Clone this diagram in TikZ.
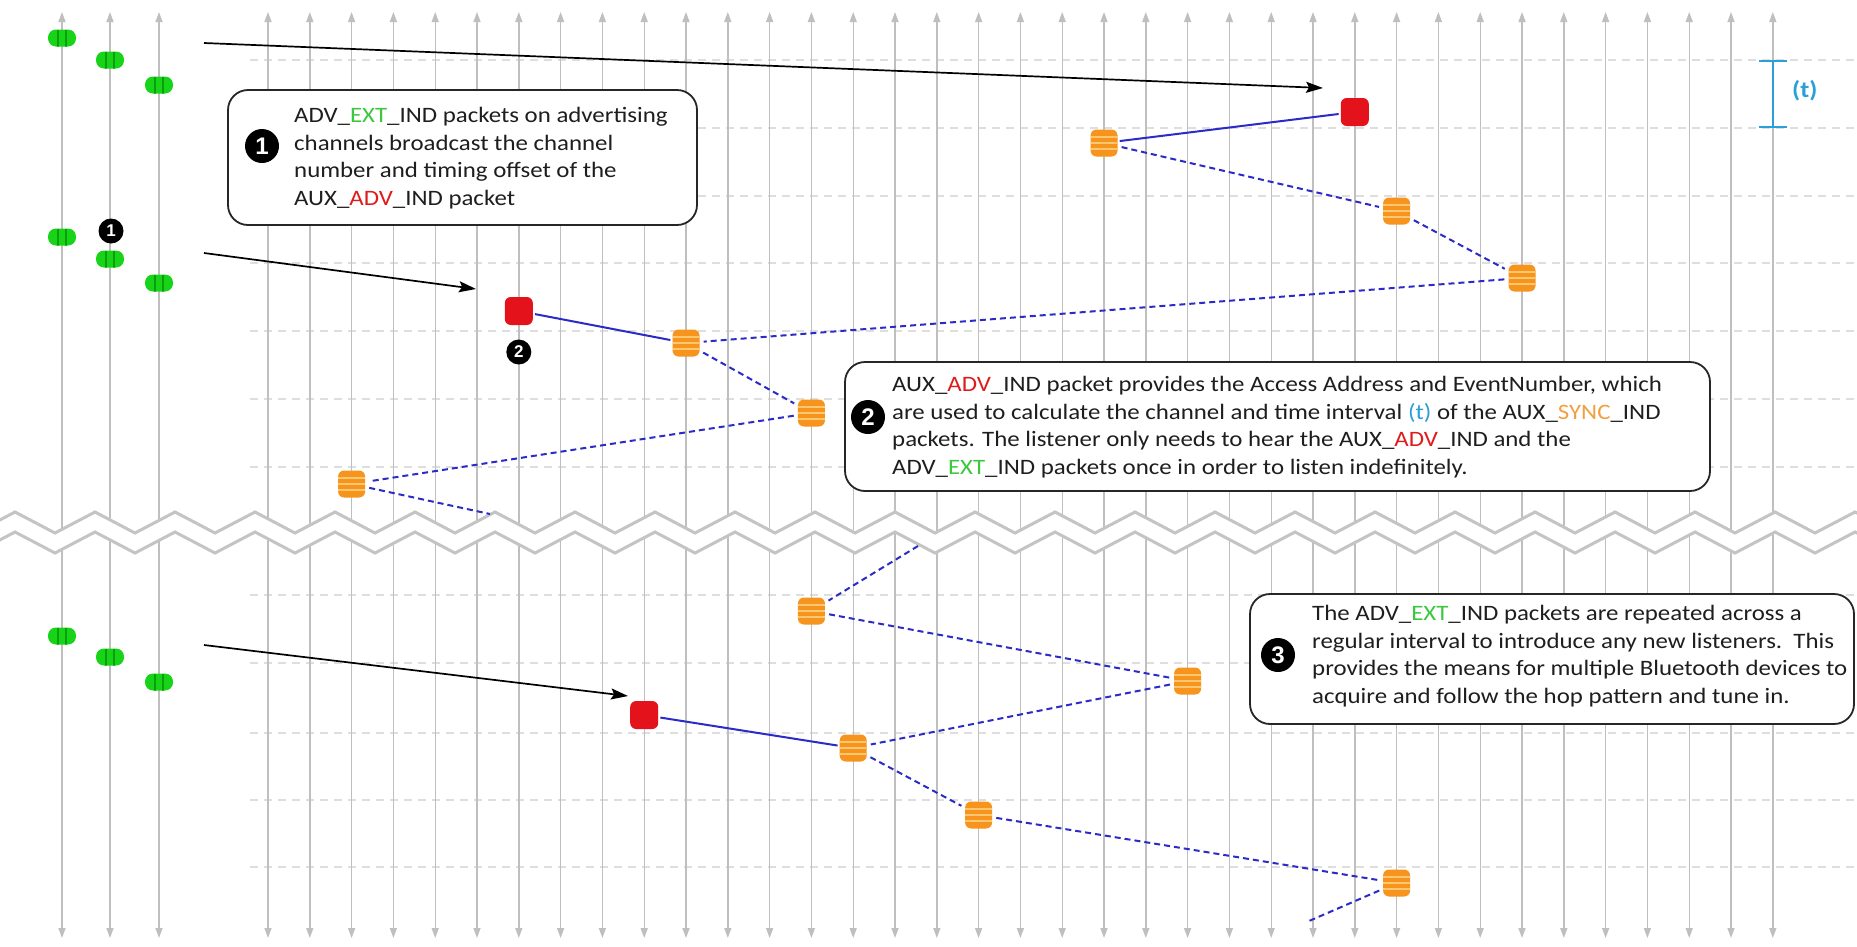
\documentclass[tikz,border=0pt]{standalone}
\usepackage{fontspec}
\setmainfont{Carlito}[FakeStretch=1.13]
\newfontfamily\numfont{Liberation Sans}
\usetikzlibrary{arrows.meta}
\definecolor{gridgray}{HTML}{BFBFBF}
\definecolor{hgray}{HTML}{DEDEDE}
\definecolor{ziggray}{HTML}{C4C4C4}
\definecolor{pktgreen}{HTML}{18D418}
\definecolor{pktgreendark}{HTML}{0B9E0B}
\definecolor{txtgreen}{HTML}{3CC83C}
\definecolor{txtred}{HTML}{E01B1B}
\definecolor{pktred}{HTML}{E3121B}
\definecolor{pktorange}{HTML}{F7941E}
\definecolor{orangeline}{HTML}{FFC870}
\definecolor{txtorange}{HTML}{F0A040}
\definecolor{tblue}{HTML}{2A9FD8}
\definecolor{linkblue}{HTML}{2B2BC8}
\definecolor{textgray}{HTML}{1E1E1E}
\tikzset{
  vline/.style={draw=gridgray, line width=1.4pt},
  vtip/.style={-{Triangle[length=10pt,width=7pt]}},
  hgrid/.style={draw=hgray, line width=1.2pt, dash pattern=on 8pt off 6pt},
  zig/.style={draw=ziggray, line width=3pt, line join=miter},
  greenpkt/.style={rounded corners=8pt, minimum width=28pt, minimum height=17pt, inner sep=0pt, fill=pktgreen,
    path picture={\foreach \dx in {-4,4}{\draw[pktgreendark, line width=1.2pt] ([xshift=\dx pt]path picture bounding box.north) -- ([xshift=\dx pt]path picture bounding box.south);}}},
  orangepkt/.style={rounded corners=6pt, minimum width=27pt, minimum height=27pt, inner sep=0pt, fill=pktorange,
    path picture={\foreach \dy in {-6,0,6}{\draw[orangeline, line width=1.5pt] ([yshift=\dy pt]path picture bounding box.west) -- ([yshift=\dy pt]path picture bounding box.east);}}},
  redpkt/.style={rounded corners=6pt, minimum width=28pt, minimum height=28pt, inner sep=0pt, fill=pktred},
  infobox/.style={draw=black!85, line width=1.8pt, rounded corners=20pt, fill=white, inner sep=0pt},
  infotext/.style={inner sep=0pt, align=left, anchor=west, text=textgray, font=\fontsize{22}{27.5}\selectfont},
  bignum/.style={circle, fill=black, text=white, minimum size=34pt, inner sep=0pt, font=\numfont\bfseries\fontsize{24}{24}\selectfont},
  smallnum/.style={circle, fill=black, text=white, minimum size=25pt, inner sep=0pt, font=\numfont\bfseries\fontsize{17}{17}\selectfont},
  blueline/.style={draw=linkblue, line width=2pt, shorten <=2pt, shorten >=2pt},
  bluedash/.style={draw=linkblue, line width=2pt, dash pattern=on 6pt off 4pt, shorten <=4pt, shorten >=4pt},
  blackarrow/.style={draw=black, line width=1.7pt, -{Stealth[length=17pt,width=11pt,inset=3pt]}},
  tbar/.style={draw=tblue, line width=2.5pt}
}
\begin{document}
\begin{tikzpicture}[x=1pt,y=-1pt]
\useasboundingbox (0,0) rectangle (1857,946);
\fill[white] (0,0) rectangle (1857,946);
% horizontal time grid
\foreach \yy in {60,128,196,263,331,399,467,595,663,733,800,867}{
  \draw[hgrid] (250,\yy) -- (1857,\yy);
}
% vertical channel lines
\foreach \xx in {62,110,159}{
  \draw[vline,vtip] (\xx,525) -- (\xx,12);
  \draw[vline,vtip] (\xx,525) -- (\xx,938);
}
\foreach \k in {0,...,36}{
  \pgfmathsetmacro{\xx}{268+41.8*\k}
  \draw[vline,vtip] (\xx,525) -- (\xx,12);
  \draw[vline,vtip] (\xx,525) -- (\xx,938);
}
% break mark
\fill[white] (-25,533) \foreach \k in {0,...,23}{ -- ({15+80*\k},512) -- ({55+80*\k},533)}
  \foreach \k in {23,...,0}{ -- ({55+80*\k},553) -- ({15+80*\k},532)} -- (-25,553) -- cycle;
\draw[zig] (-25,533) \foreach \k in {0,...,23}{ -- ({15+80*\k},512) -- ({55+80*\k},533)};
\draw[zig] (-25,553) \foreach \k in {0,...,23}{ -- ({15+80*\k},532) -- ({55+80*\k},553)};
% advertising packets
\node[greenpkt] (g1) at (62,38) {};
\node[greenpkt] (g2) at (110,60) {};
\node[greenpkt] (g3) at (159,85) {};
\node[greenpkt] (g4) at (62,237) {};
\node[greenpkt] (g5) at (110,259) {};
\node[greenpkt] (g6) at (159,283) {};
\node[greenpkt] (g7) at (62,636) {};
\node[greenpkt] (g8) at (110,657) {};
\node[greenpkt] (g9) at (159,682) {};
\node[smallnum] (s1) at (111,231) {1};
% aux / sync packets
\node[redpkt] (r1) at (1354.8,112) {};
\node[orangepkt] (oA) at (1104,143) {};
\node[orangepkt] (oB) at (1396.6,211) {};
\node[orangepkt] (oC) at (1522,278) {};
\node[orangepkt] (oD) at (686,343) {};
\node[redpkt] (r2) at (518.8,311) {};
\node[smallnum] (s2) at (518.8,352) {2};
\node[orangepkt] (oE) at (811.4,413) {};
\node[orangepkt] (oF) at (351.6,484) {};
\node[orangepkt] (oG) at (811.4,611) {};
\node[orangepkt] (oH) at (1187.6,681) {};
\node[orangepkt] (oI) at (853.2,748) {};
\node[redpkt] (r3) at (644.2,715) {};
\node[orangepkt] (oJ) at (978.6,815) {};
\node[orangepkt] (oK) at (1396.6,883) {};
\coordinate (brk1) at (490,514);
\coordinate (brk2) at (918,546);
\coordinate (end3) at (1309,921);
% links
\draw[blueline] (r1) -- (oA);
\draw[bluedash] (oA) -- (oB);
\draw[bluedash] (oB) -- (oC);
\draw[bluedash] (oC) -- (oD);
\draw[blueline] (r2) -- (oD);
\draw[bluedash] (oD) -- (oE);
\draw[bluedash] (oE) -- (oF);
\draw[bluedash,shorten >=0pt] (oF) -- (brk1);
\draw[bluedash,shorten <=0pt] (brk2) -- (oG);
\draw[bluedash] (oG) -- (oH);
\draw[bluedash] (oH) -- (oI);
\draw[blueline] (r3) -- (oI);
\draw[bluedash] (oI) -- (oJ);
\draw[bluedash] (oJ) -- (oK);
\draw[bluedash,shorten >=0pt] (oK) -- (end3);
% black arrows
\coordinate (a1s) at (204,43);  \coordinate (a1e) at (1323,88);
\coordinate (a2s) at (204,253); \coordinate (a2e) at (476,289);
\coordinate (a3s) at (204,645); \coordinate (a3e) at (628,696);
\draw[blackarrow] (a1s) -- (a1e);
\draw[blackarrow] (a2s) -- (a2e);
\draw[blackarrow] (a3s) -- (a3e);
% (t) interval
\coordinate (tt) at (1773,61);
\coordinate (tb) at (1773,127);
\draw[tbar] (tt) -- (tb);
\draw[tbar] ([xshift=-14pt]tt) -- ([xshift=14pt]tt);
\draw[tbar] ([xshift=-14pt]tb) -- ([xshift=14pt]tb);
\node[anchor=west, inner sep=0pt, text=tblue, font=\bfseries\fontsize{23}{23}\selectfont] (tlabel) at (1792,91) {(t)};
% info boxes
\node[infobox, minimum width=469pt, minimum height=135pt] (box1) at (462.5,157.5) {};
\node[bignum] (n1) at (262,146) {1};
\node[infotext] (t1) at (294,158) {ADV\_\textcolor{txtgreen}{EXT}\_IND packets on advertising\\channels broadcast the channel\\number and timing offset of the\\AUX\_\textcolor{txtred}{ADV}\_IND packet};
\node[infobox, minimum width=865pt, minimum height=129pt] (box2) at (1277.5,426.5) {};
\node[bignum] (n2) at (868,417) {2};
\node[infotext] (t2) at (892,427) {AUX\_\textcolor{txtred}{ADV}\_IND packet provides the Access Address and EventNumber, which\\are used to calculate the channel and time interval \textcolor{tblue}{(t)} of the AUX\_\textcolor{txtorange}{SYNC}\_IND\\packets. The listener only needs to hear the AUX\_\textcolor{txtred}{ADV}\_IND and the\\ADV\_\textcolor{txtgreen}{EXT}\_IND packets once in order to listen indefinitely.};
\node[infobox, minimum width=604pt, minimum height=130pt] (box3) at (1552,659) {};
\node[bignum] (n3) at (1278,655) {3};
\node[infotext] (t3) at (1312,656) {The ADV\_\textcolor{txtgreen}{EXT}\_IND packets are repeated across a\\regular interval to introduce any new listeners.\ \ This\\provides the means for multiple Bluetooth devices to\\acquire and follow the hop pattern and tune in.};
\end{tikzpicture}
\end{document}
